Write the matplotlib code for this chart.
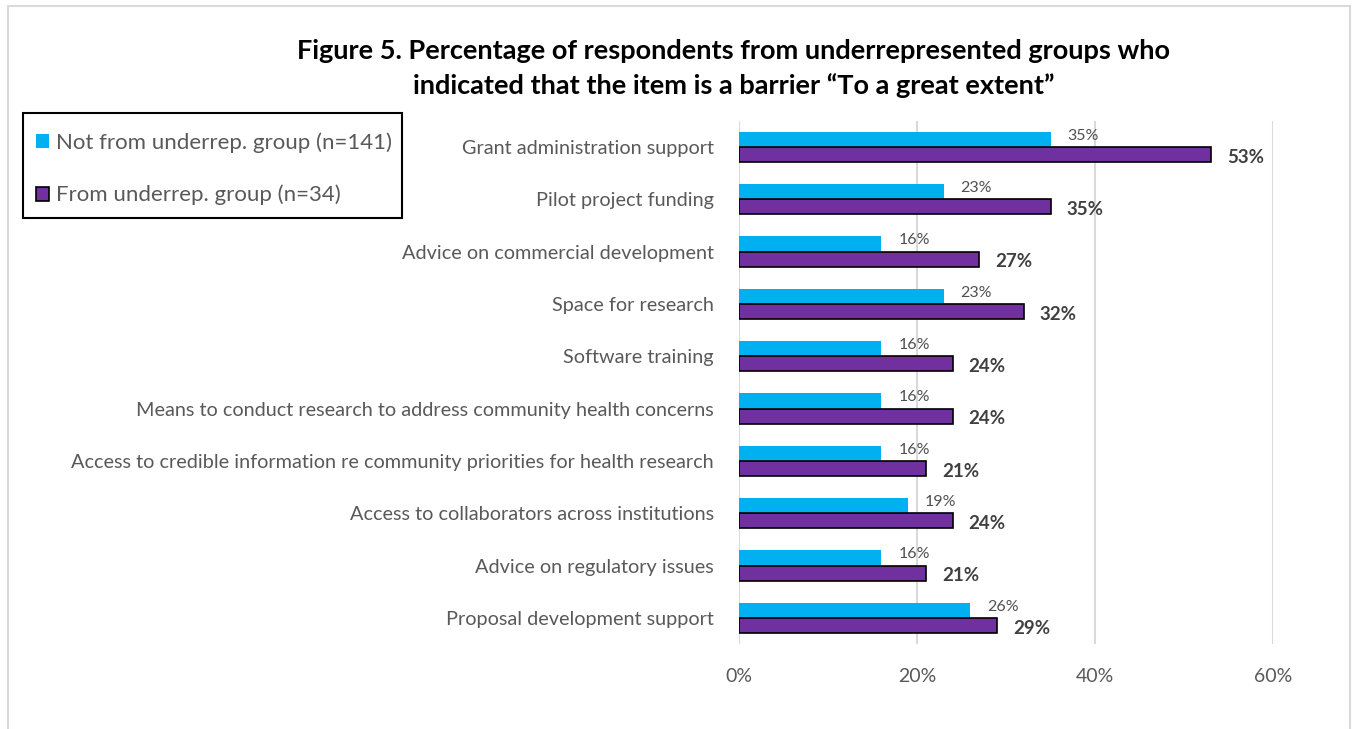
import numpy as np
import matplotlib.pyplot as plt
from matplotlib.patches import Rectangle
from matplotlib.ticker import FuncFormatter

plt.rcParams['font.family'] = ['Lato', 'DejaVu Sans']

items = [
    "Grant administration support",
    "Pilot project funding",
    "Advice on commercial development",
    "Space for research",
    "Software training",
    "Means to conduct research to address community health concerns",
    "Access to credible information re community priorities for health research",
    "Access to collaborators across institutions",
    "Advice on regulatory issues",
    "Proposal development support",
]
not_underrep = [35, 23, 16, 23, 16, 16, 16, 19, 16, 26]
underrep = [53, 35, 27, 32, 24, 24, 21, 24, 21, 29]

blue = "#00B0F0"
purple = "#7030A0"
txt = "#595959"
W, H = 1353, 729

fig = plt.figure(figsize=(13.53, 7.29), dpi=100)
ax = fig.add_axes([0.5462, 0.1166, 0.3947, 0.7177])

y = np.arange(len(items))
h = 0.29
ax.barh(y - h / 2, not_underrep, height=h, color=blue, zorder=3,
        label="Not from underrep. group (n=141)")
ax.barh(y + h / 2, underrep, height=h, color=purple, edgecolor="black",
        linewidth=1.2, zorder=3, label="From underrep. group (n=34)")

for yi, a, b in zip(y, not_underrep, underrep):
    ax.text(a + 1.9, yi - h / 2 - 0.07, f"{a}%", va="center", ha="left",
            fontsize=11.5, color="#505050", zorder=4)
    ax.text(b + 1.8, yi + h / 2 + 0.05, f"{b}%", va="center", ha="left",
            fontsize=13.5, fontweight="bold", color="#404040", zorder=4)

ax.set_xlim(0, 60)
ax.set_ylim(len(items) - 0.5, -0.5)
ax.set_xticks([0, 20, 40, 60])
ax.xaxis.set_major_formatter(FuncFormatter(lambda v, p: f"{v:.0f}%"))
ax.set_yticks(y)
ax.set_yticklabels(items)
ax.tick_params(axis="y", length=0, pad=18, labelsize=14.3, labelcolor=txt)
ax.tick_params(axis="x", length=0, pad=17, labelsize=14, labelcolor=txt)
ax.grid(axis="x", color="#D9D9D9", linewidth=1.5, zorder=0)
for s in ax.spines.values():
    s.set_visible(False)

fig.text(0.542, 0.906, "Figure 5. Percentage of respondents from underrepresented groups who\n"
         "indicated that the item is a barrier \u201cTo a great extent\u201d",
         ha="center", va="center", fontsize=19.5, fontweight="bold",
         linespacing=1.45, color="black")

# legend entries without their own frame; the box is drawn separately
fig.legend(loc="upper left", bbox_to_anchor=(36 / W, 1 - 132 / H),
           frameon=False, fontsize=16, labelcolor=txt,
           handlelength=0.6, handleheight=0.6, handletextpad=0.3,
           labelspacing=1.45, borderpad=0, borderaxespad=0)
fig.patches.append(Rectangle((23 / W, 1 - 218 / H), 379 / W, 105 / H,
                             transform=fig.transFigure, fill=False,
                             edgecolor="black", linewidth=1.5))

# light outer frame around the chart
fig.patches.append(Rectangle((8 / W, -0.05), 1342 / W, 1.05 - 6 / H,
                             transform=fig.transFigure, fill=False,
                             edgecolor="#D9D9D9", linewidth=1.5))

fig.savefig("out.png", dpi=100)
